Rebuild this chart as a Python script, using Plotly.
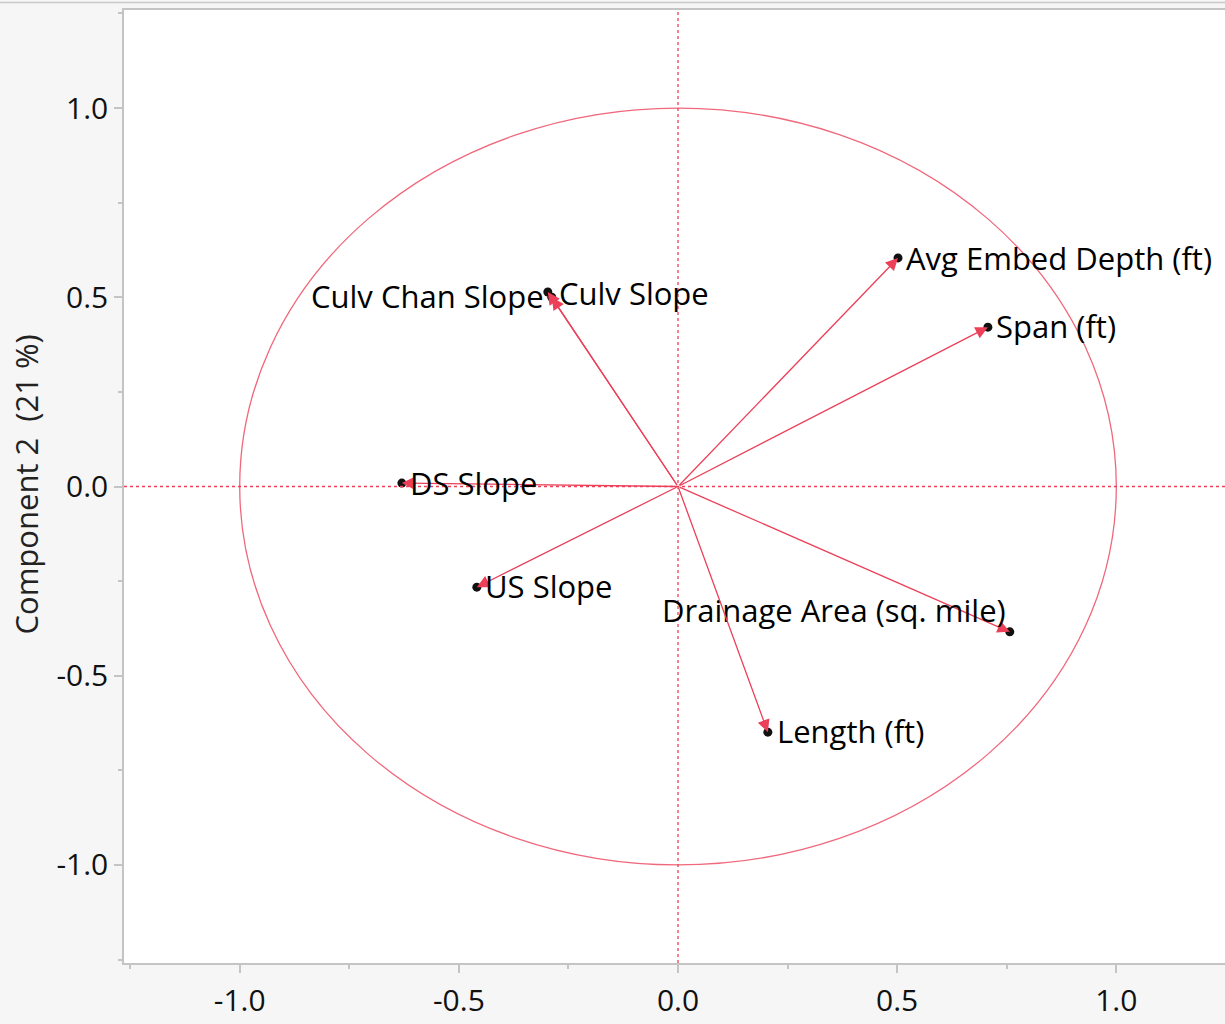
import plotly.graph_objects as go

# ---- data (loadings) ----
variables = ["Avg Embed Depth (ft)", "Span (ft)", "Culv Chan Slope", "Culv Slope",
             "DS Slope", "US Slope", "Drainage Area (sq. mile)", "Length (ft)"]
comp1 = [0.502, 0.707, -0.297, -0.288, -0.630, -0.459, 0.757, 0.205]
comp2 = [0.604, 0.421, 0.514, 0.500, 0.009, -0.266, -0.384, -0.649]

tick_vals = [-1.0, -0.5, 0.0, 0.5, 1.0]
tick_text = ["-1.0", "-0.5", "0.0", "0.5", "1.0"]
minor_vals = [-1.25, -0.75, -0.25, 0.25, 0.75, 1.25]
y_title = "Component 2  (21 %)"

# ---- label placement (style) ----
label_style = {
    "Avg Embed Depth (ft)": dict(xanchor="left", xshift=6, yshift=0),
    "Span (ft)": dict(xanchor="left", xshift=6, yshift=1),
    "Culv Chan Slope": dict(xanchor="right", xshift=-2, yshift=-4),
    "Culv Slope": dict(xanchor="left", xshift=5, yshift=4),
    "DS Slope": dict(xanchor="left", xshift=6, yshift=0),
    "US Slope": dict(xanchor="left", xshift=6, yshift=1),
    "Drainage Area (sq. mile)": dict(xanchor="right", xshift=-2, yshift=22),
    "Length (ft)": dict(xanchor="left", xshift=7, yshift=1),
}

FONT = "Open Sans"
RED = "#ec3f58"
GRID = "#c4c4c4"
W, H = 1225, 1024
ML, MT, MB, MR = 124, 10, 61, 0
PW, PH = W - ML - MR, H - MT - MB

fig = go.Figure()

# black dots at variable loadings
fig.add_trace(go.Scatter(
    x=comp1, y=comp2, mode="markers",
    marker=dict(color="#111111", size=9),
    hoverinfo="text", text=variables, showlegend=False,
))

annotations = []
for name, cx, cy in zip(variables, comp1, comp2):
    annotations.append(dict(
        x=cx, y=cy, ax=0, ay=0, xref="x", yref="y", axref="x", ayref="y",
        text="", showarrow=True, arrowhead=2, arrowsize=1.9, arrowwidth=1.3,
        arrowcolor=RED, standoff=0,
    ))
    st = label_style[name]
    annotations.append(dict(
        x=cx, y=cy, xref="x", yref="y", text=name, showarrow=False,
        xanchor=st["xanchor"], yanchor="middle", xshift=st["xshift"], yshift=st["yshift"],
        font=dict(family=FONT, size=31, color="#000000"),
    ))

# y-axis title as annotation
annotations.append(dict(
    x=-(ML - 26) / PW, y=0.5 + 2 / PH, xref="paper", yref="paper",
    text=y_title, showarrow=False, textangle=-90, xanchor="center", yanchor="middle",
    font=dict(family=FONT, size=31, color="#222222"),
))

shapes = [
    dict(type="circle", xref="x", yref="y", x0=-1, y0=-1, x1=1, y1=1,
         line=dict(color="#f0687c", width=1.3), layer="above"),
    dict(type="line", xref="paper", yref="y", x0=0, x1=1, y0=0, y1=0,
         line=dict(color=RED, width=1.3, dash="dot")),
    dict(type="line", xref="x", yref="paper", x0=0, x1=0, y0=0, y1=1,
         line=dict(color=RED, width=1.3, dash="dot")),
    dict(type="line", xref="paper", yref="paper", x0=-ML / PW, x1=1.0,
         y0=1 + 7.5 / PH, y1=1 + 7.5 / PH, line=dict(color="#c8c8c8", width=1.5)),
]

axis_common = dict(
    showgrid=False, zeroline=False, showline=True, linecolor=GRID, linewidth=1.5,
    ticks="outside", ticklen=8, tickwidth=1.5, tickcolor=GRID,
    tickvals=tick_vals, ticktext=tick_text,
    tickfont=dict(family=FONT, size=30, color="#111111"),
    minor=dict(tickvals=minor_vals, ticks="outside", ticklen=4, tickwidth=1.5, tickcolor=GRID),
)

fig.update_layout(
    width=W, height=H,
    margin=dict(l=ML, r=MR, t=MT, b=MB),
    paper_bgcolor="#f6f6f6", plot_bgcolor="#ffffff",
    xaxis=dict(range=[-1.264, 1.248], ticklabelstandoff=2, mirror=True, **axis_common),
    yaxis=dict(range=[-1.259, 1.259], ticklabelstandoff=0, mirror=False, **axis_common),
    annotations=annotations, shapes=shapes,
    showlegend=False,
)

fig.write_html("out.html", config={"displayModeBar": False},
               post_script="document.body.style.margin='0';")
